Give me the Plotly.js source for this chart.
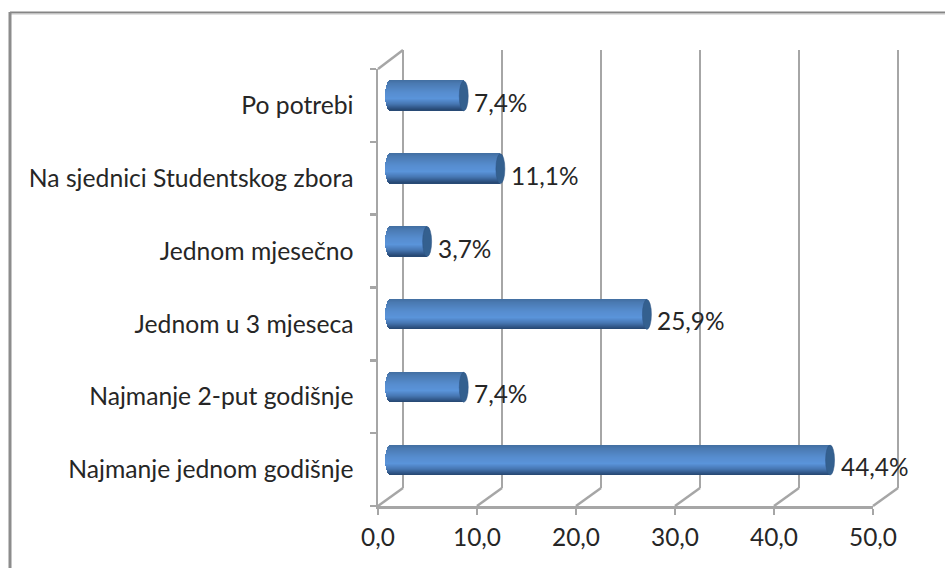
<!DOCTYPE html>
<html>
<head>
<meta charset="utf-8">
<script src="https://cdn.plot.ly/plotly-3.0.1.min.js"></script>
<style>html,body{margin:0;padding:0;background:#fff}#chart{width:945px;height:568px}</style>
</head>
<body>
<div id="chart"></div>
<script>
var categories = ["Najmanje jednom godišnje","Najmanje 2-put godišnje","Jednom u 3 mjeseca","Jednom mjesečno","Na sjednici Studentskog zbora","Po potrebi"];
var values = [44.4, 7.4, 25.9, 3.7, 11.1, 7.4];
var dataLabels = ["44,4%","7,4%","25,9%","3,7%","11,1%","7,4%"];
var xTicks = [0,10,20,30,40,50];
var xTickLabels = ["0,0","10,0","20,0","30,0","40,0","50,0"];

var W = 945, H = 568;
var PX = 9.9;             // px per x unit
var BAR_H = 30, CAP = 5.5;  // cylinder height and end-ellipse half width, px
var BAND = 72.83;         // px per category
var GRID = "#a6a6a6", TEXT = "#262626";
var FONT = "Lato, 'Open Sans', sans-serif";
var FS = 24.4;

// Vertical shading of the cylinder (position 0..1 from top, colour)
var shade = [[0,[66,110,160]],[0.12,[74,122,178]],[0.4,[86,140,206]],[0.62,[90,148,218]],[0.8,[70,118,178]],[0.93,[48,86,134]],[1,[38,70,112]]];
function shadeAt(t){
  for(var i=1;i<shade.length;i++){
    if(t<=shade[i][0]){
      var a=shade[i-1],b=shade[i],f=(t-a[0])/(b[0]-a[0]);
      return "rgb("+a[1].map(function(c,k){return Math.round(c+(b[1][k]-c)*f)}).join(",")+")";
    }
  }
  return "rgb(38,70,112)";
}
function domX(a,b){return [a/W,b/W]}
function domY(top,bot){return [1-bot/H,1-top/H]}

var traces = [];
// back wall subplot (drawn first)
traces.push({type:"scatter",mode:"none",x:xTicks,y:xTicks.map(function(){return categories[0]}),xaxis:"x",yaxis:"y",hoverinfo:"skip",showlegend:false});

// cylinder bars: one thin horizontal bar trace per pixel row of the cylinder
for(var r=0;r<BAR_H;r++){
  var t=(r+0.5)/BAR_H, u=2*t-1;
  var inset=CAP*Math.sqrt(1-u*u)/PX;
  traces.push({
    type:"bar",orientation:"h",y:categories,
    x:values.map(function(v){return v+inset}),
    base:values.map(function(){return -inset}),
    width:1.5/BAND,
    offset:(BAR_H/2-r-1)/BAND,
    marker:{color:shadeAt(t),line:{width:0}},
    xaxis:"x2",yaxis:"y2",cliponaxis:false,hoverinfo:"skip",showlegend:false
  });
}
// front subplot
traces.push({type:"scatter",mode:"none",x:values,y:categories,xaxis:"x3",yaxis:"y3",hoverinfo:"skip",showlegend:false});

var shapes = [];
// chart frame
shapes.push({type:"line",xref:"paper",yref:"paper",x0:10/W,x1:1,y0:1-12.5/H,y1:1-12.5/H,line:{color:"#858585",width:2}});
shapes.push({type:"line",xref:"paper",yref:"paper",x0:10/W,x1:1,y0:1-14/H,y1:1-14/H,line:{color:"#c4c4c4",width:1}});
shapes.push({type:"line",xref:"paper",yref:"paper",x0:10/W,x1:10/W,y0:1-12/H,y1:0,line:{color:"#8c8c8c",width:3}});
// floor lines joining front ticks with back grid lines
xTicks.forEach(function(v){
  shapes.push({type:"line",layer:"below",xref:"x",xsizemode:"pixel",xanchor:v,x0:-25,x1:0,yref:"paper",y0:1-506/H,y1:1-488/H,line:{color:GRID,width:2.5}});
});
// top slanted edge of the side wall
shapes.push({type:"line",layer:"below",xref:"x",xsizemode:"pixel",xanchor:0,x0:-25,x1:0,yref:"paper",y0:1-69/H,y1:1-50/H,line:{color:GRID,width:2.5}});
// right end ellipse of each cylinder
values.forEach(function(v,i){
  shapes.push({type:"circle",layer:"above",xref:"x2",xsizemode:"pixel",xanchor:v,x0:-4.5,x1:4.5,
    yref:"y2",ysizemode:"pixel",yanchor:categories[i],y0:-15,y1:15,
    fillcolor:"#34608f",line:{color:"#2e5584",width:0.5}});
});

var annotations = values.map(function(v,i){
  return {xref:"x3",yref:"y3",x:v,y:categories[i],text:dataLabels[i],showarrow:false,xanchor:"left",yanchor:"middle",xshift:21,yshift:3,
    font:{family:FONT,size:FS,color:TEXT}};
});

var layout = {
  width:W,height:H,margin:{l:0,r:0,t:0,b:0},paper_bgcolor:"#fff",plot_bgcolor:"rgba(0,0,0,0)",
  showlegend:false,bargap:0,barmode:"overlay",
  xaxis:{domain:domX(403-3*PX,898+3*PX),range:[-3,53],tickmode:"array",tickvals:xTicks,showticklabels:false,ticks:"",showgrid:true,gridcolor:GRID,gridwidth:2.5,zeroline:false,showline:false,anchor:"y",fixedrange:true},
  yaxis:{domain:domY(50,488),type:"category",categoryorder:"array",categoryarray:categories,range:[-0.5,5.5],showticklabels:false,ticks:"",showgrid:false,zeroline:false,showline:false,anchor:"x",fixedrange:true},
  xaxis2:{domain:domX(390.5-2*PX,885.5),range:[-2,50],visible:false,anchor:"y2",fixedrange:true},
  yaxis2:{domain:domY(59.5,496.5),type:"category",categoryorder:"array",categoryarray:categories,range:[-0.5,5.5],visible:false,anchor:"x2",fixedrange:true},
  xaxis3:{domain:domX(378,873),range:[0,50],tickmode:"array",tickvals:xTicks,ticktext:xTickLabels,ticks:"outside",ticklen:6,tickwidth:2.5,tickcolor:GRID,showline:true,linecolor:GRID,linewidth:2.5,showgrid:false,zeroline:false,anchor:"y3",ticklabelstandoff:2,
    tickfont:{family:FONT,size:FS,color:TEXT},fixedrange:true},
  yaxis3:{domain:domY(69,506),type:"category",categoryorder:"array",categoryarray:categories,range:[-0.5,5.5],tickson:"boundaries",ticks:"outside",ticklen:6,tickwidth:2.5,tickcolor:GRID,showline:true,linecolor:GRID,linewidth:2.5,showgrid:false,zeroline:false,anchor:"x3",ticklabelstandoff:17,
    tickfont:{family:FONT,size:24.7,color:TEXT},fixedrange:true},
  shapes:shapes,annotations:annotations
};
Plotly.newPlot("chart",traces,layout,{displayModeBar:false,staticPlot:true});
</script>
</body>
</html>
